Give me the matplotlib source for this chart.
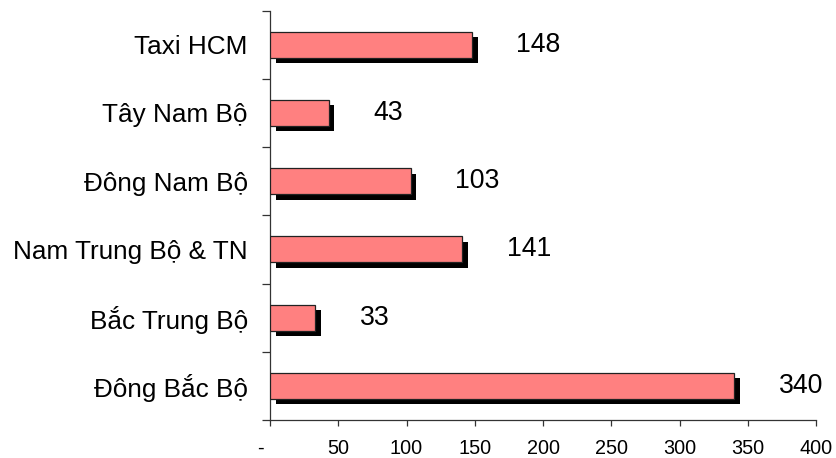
import matplotlib
matplotlib.use("Agg")
import matplotlib.pyplot as plt
import matplotlib.patheffects as pe
from matplotlib.transforms import ScaledTranslation

plt.rcParams['font.family'] = ['Liberation Sans', 'DejaVu Sans']

# Regions listed bottom to top
regions = ["Đông Bắc Bộ", "Bắc Trung Bộ", "Nam Trung Bộ & TN",
           "Đông Nam Bộ", "Tây Nam Bộ", "Taxi HCM"]
values = [340, 33, 141, 103, 43, 148]
x_ticks = [0, 50, 100, 150, 200, 250, 300, 350, 400]
x_tick_labels = ["-", "50", "100", "150", "200", "250", "300", "350", "400"]

W, H = 836, 458
fig = plt.figure(figsize=(W / 100, H / 100), dpi=100)
ax = fig.add_axes([270 / W, (H - 420) / H, 546 / W, 409.5 / H])

pos = list(range(len(regions)))
bars = ax.barh(pos, values, height=0.38, color="#FF8080",
               edgecolor="#222222", linewidth=0.9, zorder=3)
for b in bars:
    b.set_path_effects([pe.SimplePatchShadow(offset=(4, -4),
                                             shadow_rgbFace="black",
                                             alpha=1.0),
                        pe.Normal()])

for p, v in zip(pos, values):
    ax.annotate(str(v), xy=(v, p), xytext=(32, 0), textcoords="offset points",
                ha="left", va="center", fontsize=19.2, color="black")

ax.set_xlim(0, 400)
ax.set_ylim(-0.5, len(regions) - 0.5)

ax.set_xticks(x_ticks)
ax.set_xticklabels(x_tick_labels, fontsize=14.3)
ax.tick_params(axis="x", direction="out", length=4.5, width=0.9,
               color="#333333", pad=9)
# the dash for zero sits a little left of its tick
zero_lbl = ax.get_xticklabels()[0]
zero_lbl.set_transform(zero_lbl.get_transform() +
                       ScaledTranslation(-10 / 100, 0, fig.dpi_scale_trans))

ax.set_yticks(pos)
ax.set_yticklabels(regions, fontsize=18.8)
ax.tick_params(axis="y", which="major", length=0, pad=16)
ax.set_yticks([p - 0.5 for p in pos] + [len(regions) - 0.5], minor=True)
ax.tick_params(axis="y", which="minor", direction="out", length=5.5,
               width=0.9, color="#333333")

for side in ("top", "right"):
    ax.spines[side].set_visible(False)
for side in ("left", "bottom"):
    ax.spines[side].set_color("#333333")
    ax.spines[side].set_linewidth(0.9)

fig.savefig("out.png", dpi=100, facecolor="white")
